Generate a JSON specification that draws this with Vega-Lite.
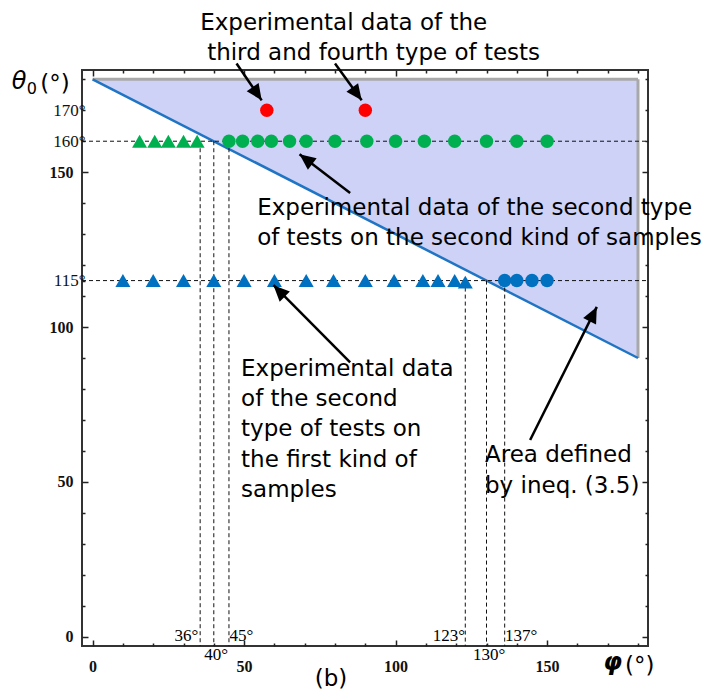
{
  "$schema": "https://vega.github.io/schema/vega-lite/v6.json",
  "width": 566,
  "height": 576,
  "autosize": "none",
  "padding": {"left": 82, "top": 70, "right": 64, "bottom": 48},
  "background": "white",
  "config": {
    "view": {"stroke": "#333333", "strokeWidth": 2},
    "axis": {"domain": false, "grid": false, "title": null, "tickColor": "#222222", "tickWidth": 1.5, "labelOverlap": false, "labelFlush": false, "labelBound": false, "labelFont": "Liberation Serif", "labelColor": "#111111"}
  },
  "encoding": {
    "x": {"field": "phi", "type": "quantitative", "scale": {"domain": [-3.5, 183.3], "nice": false, "zero": false}, "axis": null},
    "y": {"field": "theta", "type": "quantitative", "scale": {"domain": [-3, 183], "nice": false, "zero": false}, "axis": null}
  },
  "layer": [
    {
      "data": {"values": [
        {"phi": 0, "theta": 180, "theta2": 180},
        {"phi": 180, "theta": 90, "theta2": 180}
      ]},
      "mark": {"type": "area", "color": "#cdd2f6", "opacity": 1},
      "encoding": {
        "x": {"field": "phi", "type": "quantitative", "scale": {"domain": [-3.5, 183.3], "nice": false, "zero": false},
          "axis": {"orient": "bottom", "values": [0,10,20,30,40,50,60,70,80,90,100,110,120,130,140,150,160,170,180],
            "labelExpr": "datum.value % 50 == 0 ? datum.label : ''",
            "tickSize": {"condition": {"test": "datum.value % 50 == 0", "value": -6}, "value": -3},
            "labelPadding": 18, "labelFontSize": 16, "labelFontWeight": "bold"}},
        "y": {"field": "theta", "type": "quantitative", "scale": {"domain": [-3, 183], "nice": false, "zero": false},
          "axis": {"orient": "left", "values": [0,10,20,30,40,50,60,70,80,90,100,110,115,120,130,140,150,160,170,180],
            "labelExpr": "indexof([115,160,170], datum.value) >= 0 ? datum.value + '°' : (datum.value % 50 == 0 ? datum.label : '')",
            "tickSize": {"condition": {"test": "datum.value % 50 == 0", "value": -6}, "value": -3},
            "labelPadding": {"condition": {"test": "indexof([115,160,170], datum.value) >= 0", "value": 0}, "value": 15},
            "labelFontSize": {"condition": {"test": "indexof([115,160,170], datum.value) >= 0", "value": 17}, "value": 16},
            "labelFontWeight": {"condition": {"test": "indexof([115,160,170], datum.value) >= 0", "value": "normal"}, "value": "bold"}}},
        "y2": {"field": "theta2"}
      }
    },
    {
      "data": {"values": [
        {"phi": 0, "theta": 180, "phi2": 180, "theta2": 180},
        {"phi": 180, "theta": 180, "phi2": 180, "theta2": 90}
      ]},
      "mark": {"type": "rule", "color": "#a8a8a8", "strokeWidth": 3},
      "encoding": {
        "x": {"field": "phi", "type": "quantitative", "scale": {"domain": [-3.5, 183.3], "nice": false, "zero": false},
          "axis": {"orient": "top", "labels": false, "values": [0,10,20,30,40,50,60,70,80,90,100,110,120,130,140,150,160,170,180],
            "tickSize": {"condition": {"test": "datum.value % 50 == 0", "value": -6}, "value": -3}}},
        "y": {"field": "theta", "type": "quantitative", "scale": {"domain": [-3, 183], "nice": false, "zero": false},
          "axis": {"orient": "right", "labels": false, "values": [0,10,20,30,40,50,60,70,80,90,100,110,120,130,140,150,160,170,180],
            "tickSize": {"condition": {"test": "datum.value % 50 == 0", "value": -6}, "value": -3}}},
        "x2": {"field": "phi2"},
        "y2": {"field": "theta2"}
      }
    },
    {
      "data": {"values": [
        {"phi": 0, "theta": 180, "phi2": 180, "theta2": 90}
      ]},
      "mark": {"type": "rule", "color": "#1f74c4", "strokeWidth": 2.5},
      "encoding": {"x2": {"field": "phi2"}, "y2": {"field": "theta2"}}
    },
    {
      "data": {"values": [
        {"phi": -3.5, "theta": 160, "phi2": 183.3, "theta2": 160},
        {"phi": -3.5, "theta": 115, "phi2": 183.3, "theta2": 115},
        {"phi": 35.5, "theta": 160, "phi2": 35.5, "theta2": -3},
        {"phi": 40, "theta": 160, "phi2": 40, "theta2": -3},
        {"phi": 45, "theta": 160, "phi2": 45, "theta2": -3},
        {"phi": 123, "theta": 115, "phi2": 123, "theta2": -3},
        {"phi": 130, "theta": 115, "phi2": 130, "theta2": -3},
        {"phi": 136, "theta": 115, "phi2": 136, "theta2": -3}
      ]},
      "mark": {"type": "rule", "color": "#111111", "strokeWidth": 1, "strokeDash": [4, 3]},
      "encoding": {"x2": {"field": "phi2"}, "y2": {"field": "theta2"}}
    },
    {
      "data": {"values": [
        {"phi": 57.5, "theta": 170, "series": "third and fourth type", "region": "inside"},
        {"phi": 90, "theta": 170, "series": "third and fourth type", "region": "inside"},
        {"phi": 15.5, "theta": 160, "series": "second type, second kind", "region": "outside"},
        {"phi": 20.5, "theta": 160, "series": "second type, second kind", "region": "outside"},
        {"phi": 25, "theta": 160, "series": "second type, second kind", "region": "outside"},
        {"phi": 30, "theta": 160, "series": "second type, second kind", "region": "outside"},
        {"phi": 34.5, "theta": 160, "series": "second type, second kind", "region": "outside"},
        {"phi": 45, "theta": 160, "series": "second type, second kind", "region": "inside"},
        {"phi": 49.5, "theta": 160, "series": "second type, second kind", "region": "inside"},
        {"phi": 54.5, "theta": 160, "series": "second type, second kind", "region": "inside"},
        {"phi": 59, "theta": 160, "series": "second type, second kind", "region": "inside"},
        {"phi": 65, "theta": 160, "series": "second type, second kind", "region": "inside"},
        {"phi": 70.5, "theta": 160, "series": "second type, second kind", "region": "inside"},
        {"phi": 80, "theta": 160, "series": "second type, second kind", "region": "inside"},
        {"phi": 90.5, "theta": 160, "series": "second type, second kind", "region": "inside"},
        {"phi": 100, "theta": 160, "series": "second type, second kind", "region": "inside"},
        {"phi": 109.5, "theta": 160, "series": "second type, second kind", "region": "inside"},
        {"phi": 119.5, "theta": 160, "series": "second type, second kind", "region": "inside"},
        {"phi": 130, "theta": 160, "series": "second type, second kind", "region": "inside"},
        {"phi": 140, "theta": 160, "series": "second type, second kind", "region": "inside"},
        {"phi": 150, "theta": 160, "series": "second type, second kind", "region": "inside"},
        {"phi": 10, "theta": 115, "series": "second type, first kind", "region": "outside"},
        {"phi": 20, "theta": 115, "series": "second type, first kind", "region": "outside"},
        {"phi": 30, "theta": 115, "series": "second type, first kind", "region": "outside"},
        {"phi": 40, "theta": 115, "series": "second type, first kind", "region": "outside"},
        {"phi": 50, "theta": 115, "series": "second type, first kind", "region": "outside"},
        {"phi": 60, "theta": 115, "series": "second type, first kind", "region": "outside"},
        {"phi": 70.5, "theta": 115, "series": "second type, first kind", "region": "outside"},
        {"phi": 79.5, "theta": 115, "series": "second type, first kind", "region": "outside"},
        {"phi": 90, "theta": 115, "series": "second type, first kind", "region": "outside"},
        {"phi": 99.5, "theta": 115, "series": "second type, first kind", "region": "outside"},
        {"phi": 109, "theta": 115, "series": "second type, first kind", "region": "outside"},
        {"phi": 114, "theta": 115, "series": "second type, first kind", "region": "outside"},
        {"phi": 119.5, "theta": 115, "series": "second type, first kind", "region": "outside"},
        {"phi": 123, "theta": 114.5, "series": "second type, first kind", "region": "outside"},
        {"phi": 136, "theta": 115, "series": "second type, first kind", "region": "inside"},
        {"phi": 140, "theta": 115, "series": "second type, first kind", "region": "inside"},
        {"phi": 145, "theta": 115, "series": "second type, first kind", "region": "inside"},
        {"phi": 150, "theta": 115, "series": "second type, first kind", "region": "inside"}
      ]},
      "mark": {"type": "point", "filled": true, "opacity": 1, "strokeWidth": 0},
      "encoding": {
        "color": {"field": "series", "type": "nominal", "legend": null,
          "scale": {"domain": ["third and fourth type", "second type, second kind", "second type, first kind"], "range": ["#ff0000", "#00b050", "#0070c0"]}},
        "shape": {"field": "region", "type": "nominal", "legend": null,
          "scale": {"domain": ["inside", "outside"], "range": ["circle", "triangle-up"]}},
        "size": {"field": "region", "type": "nominal", "legend": null,
          "scale": {"domain": ["inside", "outside"], "range": [180, 225]}}
      }
    },
    {
      "data": {"name": "arrows", "values": [
        {"phi": 47.5, "theta": 185.1, "phi2": 55.8, "theta2": 173.2, "angle": 145.7},
        {"phi": 80.0, "theta": 185.1, "phi2": 88.8, "theta2": 173.2, "angle": 144},
        {"phi": 85.0, "theta": 143.3, "phi2": 68.3, "theta2": 155.8, "angle": 307.4},
        {"phi": 85.0, "theta": 88.6, "phi2": 59.7, "theta2": 113.5, "angle": 315.1},
        {"phi": 144.4, "theta": 63.5, "phi2": 166.4, "theta2": 106.5, "angle": 26.6}
      ]},
      "mark": {"type": "rule", "color": "#000000", "strokeWidth": 2.5},
      "encoding": {"x2": {"field": "phi2"}, "y2": {"field": "theta2"}}
    },
    {
      "data": {"name": "arrows"},
      "mark": {"type": "point", "shape": "M0,0L-0.9,2L0.9,2Z", "filled": true, "color": "#000000", "opacity": 1, "size": 256, "strokeWidth": 0},
      "encoding": {
        "x": {"field": "phi2", "type": "quantitative", "scale": {"domain": [-3.5, 183.3], "nice": false, "zero": false}, "axis": null},
        "y": {"field": "theta2", "type": "quantitative", "scale": {"domain": [-3, 183], "nice": false, "zero": false}, "axis": null},
        "angle": {"field": "angle", "type": "quantitative", "scale": null}
      }
    },
    {
      "data": {"values": [
        {"phi": 35.5, "theta": 195.8, "label": "Experimental data of the"},
        {"phi": 37.8, "theta": 186.1, "label": "third and fourth type of tests"},
        {"phi": 54.3, "theta": 136.1, "label": "Experimental data of the second type"},
        {"phi": 54.3, "theta": 126.4, "label": "of tests on the second kind of samples"},
        {"phi": 49, "theta": 84.1, "label": "Experimental data"},
        {"phi": 49, "theta": 74.4, "label": "of the second"},
        {"phi": 49, "theta": 64.7, "label": "type of tests on"},
        {"phi": 49, "theta": 54.7, "label": "the first kind of"},
        {"phi": 49, "theta": 45.0, "label": "samples"},
        {"phi": 129.5, "theta": 56.3, "label": "Area defined"},
        {"phi": 129.5, "theta": 46.3, "label": "by ineq. (3.5)"},
        {"phi": -17.3, "theta": 176.1, "label": "(°)"},
        {"phi": 175.7, "theta": -11.8, "label": "(°)"}
      ]},
      "mark": {"type": "text", "align": "left", "baseline": "alphabetic", "font": "DejaVu Sans", "fontSize": 23, "color": "#000000"},
      "encoding": {"text": {"field": "label"}}
    },
    {
      "data": {"values": [{"phi": 78.7, "theta": -15.8, "label": "(b)"}]},
      "mark": {"type": "text", "align": "center", "baseline": "alphabetic", "font": "DejaVu Sans", "fontSize": 23, "color": "#000000"},
      "encoding": {"text": {"field": "label"}}
    },
    {
      "data": {"values": [{"phi": -26.7, "theta": 176.8, "label": "θ"}]},
      "mark": {"type": "text", "align": "left", "baseline": "alphabetic", "font": "DejaVu Sans", "fontStyle": "italic", "fontSize": 24, "color": "#000000"},
      "encoding": {"text": {"field": "label"}}
    },
    {
      "data": {"values": [{"phi": -21.7, "theta": 175.2, "label": "0"}]},
      "mark": {"type": "text", "align": "left", "baseline": "alphabetic", "font": "DejaVu Sans", "fontSize": 16, "color": "#000000"},
      "encoding": {"text": {"field": "label"}}
    },
    {
      "data": {"values": [{"phi": 168.5, "theta": -10.8, "label": "φ"}]},
      "mark": {"type": "text", "align": "left", "baseline": "alphabetic", "font": "DejaVu Sans", "fontStyle": "italic", "fontWeight": "bold", "fontSize": 24, "color": "#000000"},
      "encoding": {"text": {"field": "label"}}
    },
    {
      "data": {"values": [
        {"phi": 34.9, "theta": -1.4, "label": "36°"},
        {"phi": 122.9, "theta": -1.4, "label": "123°"}
      ]},
      "mark": {"type": "text", "align": "right", "baseline": "alphabetic", "font": "Liberation Serif", "fontSize": 17, "color": "#000000"},
      "encoding": {"text": {"field": "label"}}
    },
    {
      "data": {"values": [
        {"phi": 40.8, "theta": -7.6, "label": "40°"},
        {"phi": 130.9, "theta": -7.6, "label": "130°"}
      ]},
      "mark": {"type": "text", "align": "center", "baseline": "alphabetic", "font": "Liberation Serif", "fontSize": 17, "color": "#000000"},
      "encoding": {"text": {"field": "label"}}
    },
    {
      "data": {"values": [
        {"phi": 45.2, "theta": -1.4, "label": "45°"},
        {"phi": 136.1, "theta": -1.4, "label": "137°"}
      ]},
      "mark": {"type": "text", "align": "left", "baseline": "alphabetic", "font": "Liberation Serif", "fontSize": 17, "color": "#000000"},
      "encoding": {"text": {"field": "label"}}
    }
  ],
  "resolve": {"axis": {"x": "independent", "y": "independent"}}
}
